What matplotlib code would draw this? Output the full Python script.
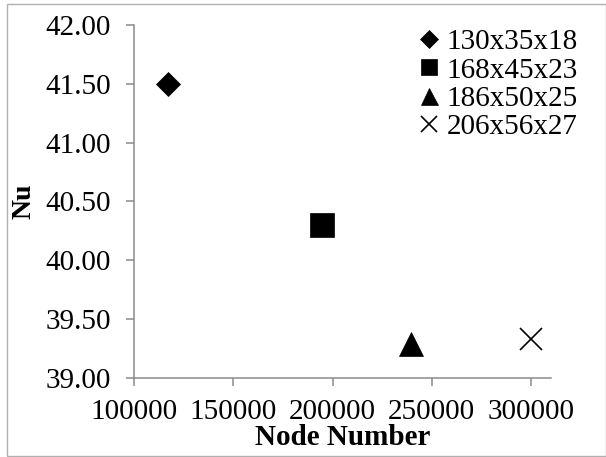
import matplotlib
matplotlib.use("Agg")
import matplotlib.pyplot as plt
from matplotlib.patches import Rectangle
from matplotlib.ticker import FormatStrFormatter

plt.rcParams['font.family'] = ['Liberation Serif', 'DejaVu Serif']

labels = ['130x35x18', '168x45x23', '186x50x25', '206x56x27']
node_numbers = [117000, 194500, 239500, 300300]
nu_values = [41.50, 40.30, 39.29, 39.33]
markers = ['D', 's', '^', 'x']
msizes = [12.3, 16.6, 17.0, 16.0]

x_ticks = [100000, 150000, 200000, 250000, 300000]
y_ticks = [39.0, 39.5, 40.0, 40.5, 41.0, 41.5, 42.0]

W, H = 606, 457
fig = plt.figure(figsize=(W / 100, H / 100), dpi=100)
left, right, top, bottom = 134.3, 550.7, 25.0, 377.7
ax = fig.add_axes([left / W, 1 - bottom / H, (right - left) / W, (bottom - top) / H])

for lab, xv, yv, mk, ms in zip(labels, node_numbers, nu_values, markers, msizes):
    if mk == 'x':
        ax.plot([xv], [yv], linestyle='none', marker=mk, markersize=ms,
                color='black', markeredgewidth=1.2, label=lab)
    else:
        ax.plot([xv], [yv], linestyle='none', marker=mk, markersize=ms,
                color='black', markeredgewidth=0.5, label=lab)

ax.set_xlim(100000, 310000)
ax.set_ylim(39.0, 42.0)
ax.set_xticks(x_ticks)
ax.set_yticks(y_ticks)
ax.yaxis.set_major_formatter(FormatStrFormatter('%.2f'))

gray = '#8a8a8a'
for s in ['top', 'right']:
    ax.spines[s].set_visible(False)
for s in ['left', 'bottom']:
    ax.spines[s].set_color(gray)
    ax.spines[s].set_linewidth(1.1)
ax.tick_params(axis='both', direction='out', length=6, width=1.1, color=gray,
               labelsize=21, labelcolor='black')
ax.tick_params(axis='y', pad=11)
ax.tick_params(axis='x', pad=9)

ax.set_xlabel('Node Number', fontsize=21, fontweight='bold')
ax.xaxis.set_label_coords(0.5, -0.17)
ax.xaxis.label.set_va('center')
ax.set_ylabel('Nu', fontsize=20, fontweight='bold')
ax.yaxis.set_label_coords(-0.265, 0.5)
ax.yaxis.label.set_va('center')

leg = ax.legend(loc='upper left', bbox_to_anchor=(418.8 / W, 1 - 29 / H),
                bbox_transform=fig.transFigure, frameon=False, fontsize=21,
                markerscale=0.72, handlelength=0.7, handletextpad=0.25,
                borderpad=0, borderaxespad=0, labelspacing=0.06)

fig.add_artist(Rectangle((6.5 / W, 1.5 / H), (W - 6.5) / W, (H - 5) / H,
                         transform=fig.transFigure, fill=False,
                         edgecolor='#b0b0b0', linewidth=1))

fig.savefig('out.png', dpi=100)
